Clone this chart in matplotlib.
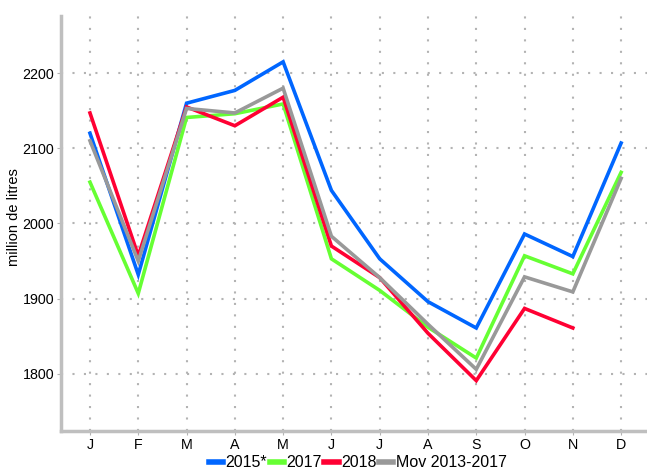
import matplotlib.pyplot as plt

plt.rcParams['font.family'] = ['Liberation Sans', 'DejaVu Sans']

months = ['J', 'F', 'M', 'A', 'M', 'J', 'J', 'A', 'S', 'O', 'N', 'D']

y2015 = [2120, 1932, 2160, 2177, 2215, 2044, 1953, 1896, 1861, 1986, 1956, 2107]
y2017 = [2055, 1907, 2141, 2146, 2159, 1953, 1911, 1862, 1821, 1957, 1933, 2068]
y2018 = [2147, 1957, 2155, 2130, 2168, 1970, 1928, 1854, 1791, 1887, 1861]
ymov = [2110, 1950, 2153, 2147, 2180, 1983, 1928, 1866, 1806, 1929, 1909, 2060]

series = [
    ('2015*', y2015, '#0066ff'),
    ('2017', y2017, '#66ff33'),
    ('2018', y2018, '#ff0033'),
    ('Mov 2013-2017', ymov, '#999999'),
]

fig = plt.figure(figsize=(6.47, 4.7), dpi=100)
ax = fig.add_axes([0.0943, 0.083, 0.906, 0.883])

for label, vals, color in series:
    ax.plot(range(len(vals)), vals, color=color, linewidth=2.6, label=label,
            solid_joinstyle='miter')

ax.set_xlim(-0.6, 11.54)
ax.set_ylim(1724, 2276)
ax.set_xticks(range(12))
ax.set_xticklabels(months)
ax.set_yticks([1800, 1900, 2000, 2100, 2200])
ax.set_ylabel('million de litres', fontsize=10.5, ha='center', va='center')
ax.yaxis.set_label_coords(-0.08, 0.515)

ax.grid(True, color='#b3b3b3', linestyle=(0, (1, 4.5)), linewidth=1.5)
ax.set_axisbelow(True)
for side in ['top', 'right']:
    ax.spines[side].set_visible(False)
for side in ['left', 'bottom']:
    ax.spines[side].set_color('#bfbfbf')
    ax.spines[side].set_linewidth(2.5)
ax.tick_params(axis='both', length=3, color='#b3b3b3', labelsize=10.3, pad=2)

leg = fig.legend(loc='lower center', bbox_to_anchor=(0.553, -0.014), ncol=4,
                 frameon=False, fontsize=11.5, handlelength=0.9, handletextpad=0.15,
                 columnspacing=0.15, borderaxespad=0)
for h in leg.get_lines():
    h.set_linewidth(4)

fig.savefig('out.png', dpi=100)
